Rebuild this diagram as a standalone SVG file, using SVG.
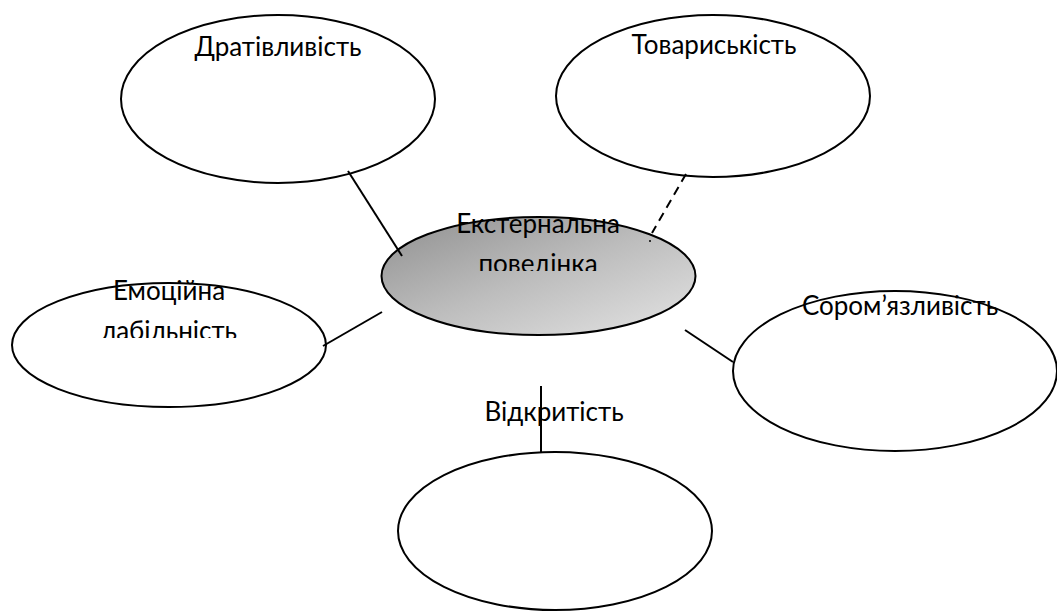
<svg xmlns="http://www.w3.org/2000/svg" width="1057" height="611" viewBox="0 0 1057 611">
  <style>
    .shape { fill: #ffffff; stroke: #000000; stroke-width: 2; }
    .label { font-family: Lato, "Open Sans", sans-serif; font-size: 26px; fill: #000000; text-anchor: middle; }
    .link { stroke: #000000; stroke-width: 2; fill: none; }
    .dash { stroke-dasharray: 9 6; }
  </style>
  <defs>
    <linearGradient id="centreFill" x1="0" y1="0" x2="1" y2="1">
      <stop offset="0" stop-color="#8f8f8f"/>
      <stop offset="0.5" stop-color="#bdbdbd"/>
      <stop offset="1" stop-color="#e4e4e4"/>
    </linearGradient>
    <clipPath id="clipCentre"><rect x="380" y="190" width="320" height="81"/></clipPath>
    <clipPath id="clipLeft"><rect x="40" y="270" width="260" height="68"/></clipPath>
  </defs>

  <g id="node-drativlyvist">
    <ellipse class="shape" cx="278" cy="99" rx="157" ry="84"/>
    <text class="label" x="278" y="56">Дратівливість</text>
  </g>

  <g id="node-tovaryskist">
    <ellipse class="shape" cx="713" cy="96" rx="157" ry="81"/>
    <text class="label" x="714" y="54">Товариськість</text>
  </g>

  <g id="node-emotsiina">
    <ellipse class="shape" cx="169" cy="345" rx="157" ry="62"/>
    <g clip-path="url(#clipLeft)">
      <text class="label" x="169" y="300">Емоційна</text>
      <text class="label" x="169" y="340">лабільність</text>
    </g>
  </g>

  <g id="node-soromiazlyvist">
    <ellipse class="shape" cx="895" cy="371" rx="162" ry="80"/>
    <text class="label" x="900" y="315">Сором’язливість</text>
  </g>

  <g id="node-vidkrytist">
    <ellipse class="shape" cx="555" cy="531" rx="157" ry="79"/>
    <text class="label" x="554" y="421">Відкритість</text>
  </g>

  <g id="node-eksternalna">
    <ellipse cx="538.5" cy="276" rx="157" ry="59" fill="url(#centreFill)" stroke="#000000" stroke-width="2"/>
    <g clip-path="url(#clipCentre)">
      <text class="label" x="538" y="233">Екстернальна</text>
      <text class="label" x="538" y="273">поведінка</text>
    </g>
  </g>

  <g id="connectors">
    <line class="link" x1="348" y1="171" x2="402" y2="256"/>
    <line class="link dash" x1="686" y1="174" x2="652" y2="233"/>
    <circle cx="650" cy="241" r="1" fill="#000000"/>
    <line class="link" x1="382" y1="312" x2="323" y2="346"/>
    <line class="link" x1="685" y1="330" x2="733" y2="362"/>
    <line class="link" x1="541" y1="386" x2="541" y2="453"/>
  </g>
</svg>
